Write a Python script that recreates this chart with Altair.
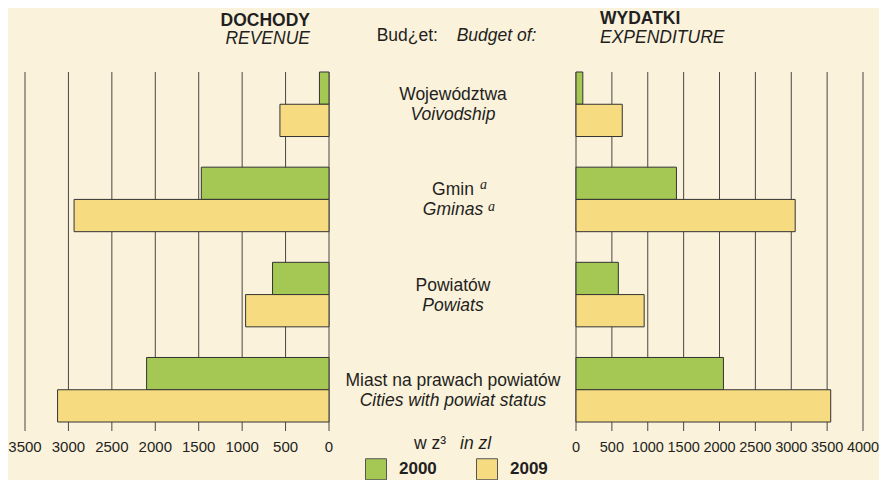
import altair as alt
import pandas as pd

# ---------------- data ----------------
categories = ["Województwa", "Gmin", "Powiatów", "Miast na prawach powiatów"]
labels_pl = ["Województwa", "Gmin", "Powiatów", "Miast na prawach powiatów"]
labels_en = ["Voivodship", "Gminas", "Powiats", "Cities with powiat status"]
years = ["2000", "2009"]
revenue_2000 = [110, 1470, 650, 2100]
revenue_2009 = [565, 2935, 960, 3125]
expenditure_2000 = [95, 1400, 590, 2055]
expenditure_2009 = [645, 3055, 950, 3550]
left_ticks = [0, 500, 1000, 1500, 2000, 2500, 3000, 3500]
right_ticks = [0, 500, 1000, 1500, 2000, 2500, 3000, 3500, 4000]
colors = ["#A5C855", "#F6DB80"]

rows = []
for i, c in enumerate(categories):
    rows.append(dict(cat=c, year=years[0], revenue=revenue_2000[i], expenditure=expenditure_2000[i]))
    rows.append(dict(cat=c, year=years[1], revenue=revenue_2009[i], expenditure=expenditure_2009[i]))
df = pd.DataFrame(rows)
lab = pd.DataFrame(dict(cat=categories, pl=labels_pl, en=labels_en))
sup = pd.DataFrame(dict(cat=["Gmin"], t=["a"]))
lt = pd.DataFrame(dict(v=left_ticks))
rt = pd.DataFrame(dict(v=right_ticks))

FONT = "Liberation Sans"
SERIF = "Liberation Serif"
TXT = "#231f20"
BG = "#FBF2DC"
GRID = "#4a4640"
H = 350
WL, WC, WR = 304, 247, 287
W = WL + WC + WR

yenc = alt.Y("cat:N", sort=categories,
             scale=alt.Scale(domain=categories, paddingInner=0.322, paddingOuter=0),
             axis=None)
yoff = alt.YOffset("year:N", scale=alt.Scale(domain=years, paddingInner=0, paddingOuter=0))
color = alt.Color(
    "year:N", scale=alt.Scale(domain=years, range=colors),
    legend=alt.Legend(orient="none", legendX=340, legendY=386, direction="horizontal",
                      title=None, symbolType="square", symbolSize=441,
                      symbolStrokeColor="#555", symbolStrokeWidth=1, symbolOpacity=1,
                      labelFont=FONT, labelFontSize=17, labelFontWeight="bold",
                      labelColor=TXT, labelOffset=12, columnPadding=37, padding=0))

lscale = alt.Scale(domain=[0, 3500], range=[WL, 0], nice=False)
rscale = alt.Scale(domain=[0, 4000], range=[WL + WC, W], nice=False)


def header(text, x, y, align, style, weight="normal", size=17.5):
    return alt.Chart(pd.DataFrame(dict(t=[text]))).mark_text(
        font=FONT, fontSize=size, fontStyle=style, fontWeight=weight, color=TXT,
        align=align, baseline="alphabetic"
    ).encode(text="t:N", x=alt.value(x), y=alt.value(y))


def side(ticks_df, field, scale, label_size):
    grid = alt.Chart(ticks_df).mark_rule(color=GRID, strokeWidth=1).encode(
        x=alt.X("v:Q", scale=scale, axis=None), y=alt.value(0), y2=alt.value(H + 9))
    labels = alt.Chart(ticks_df).mark_text(
        font=FONT, fontSize=label_size, color=TXT, baseline="alphabetic", align="center"
    ).encode(x=alt.X("v:Q", scale=scale, axis=None), y=alt.value(H + 30),
             text=alt.Text("v:Q", format="d"))
    bars = alt.Chart(df).mark_bar(stroke="#333", strokeWidth=1, opacity=1).encode(
        x=alt.X(f"{field}:Q", scale=scale, axis=None),
        y=yenc, yOffset=yoff, color=color)
    return alt.layer(grid, labels, bars)


left = side(lt, "revenue", lscale, 15)
right = side(rt, "expenditure", rscale, 14.5)

base_lab = alt.Chart(lab)
line1 = base_lab.mark_text(font=FONT, fontSize=17.5, color=TXT, align="center",
                           baseline="alphabetic", dy=-4).encode(
    text="pl:N", y=yenc, x=alt.value(428))
line2 = base_lab.mark_text(font=FONT, fontSize=17.5, fontStyle="italic", color=TXT,
                           align="center", baseline="alphabetic", dy=16).encode(
    text="en:N", y=yenc, x=alt.value(428))
sup1 = alt.Chart(sup).mark_text(font=SERIF, fontSize=14, fontStyle="italic", color=TXT,
                                align="left", baseline="alphabetic", dy=-10).encode(
    text="t:N", y=yenc, x=alt.value(455))
sup2 = alt.Chart(sup).mark_text(font=SERIF, fontSize=14, fontStyle="italic", color=TXT,
                                align="left", baseline="alphabetic", dy=12).encode(
    text="t:N", y=yenc, x=alt.value(463))

center = alt.layer(
    line1, line2, sup1, sup2,
    header("DOCHODY", 285, -46.3, "right", "normal", "bold"),
    header("REVENUE", 285, -27.7, "right", "italic"),
    header("Bud¿et:", 351.7, -31, "left", "normal"),
    header("Budget of:", 431.7, -31, "left", "italic"),
    header("WYDATKI", 575, -48, "left", "normal", "bold"),
    header("EXPENDITURE", 575, -29.3, "left", "italic"),
    header("w z³", 389, 377, "left", "normal"),
    header("in zl", 435, 377, "left", "italic"),
)

chart = alt.layer(left, center, right).resolve_scale(x="independent").properties(
    width=W, height=H,
    autosize=alt.AutoSizeParams(type="none"),
    padding={"left": 17, "top": 64, "right": 16, "bottom": 58},
).configure(background=BG).configure_view(stroke=None)

chart.save("out.html", embed_options={"renderer": "svg", "actions": False})
